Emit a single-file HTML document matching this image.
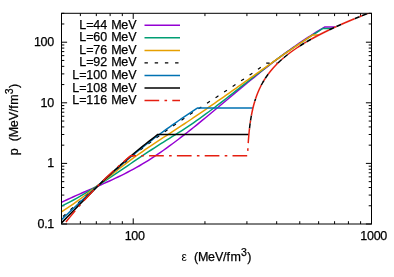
<!DOCTYPE html>
<html><head><meta charset="utf-8"><style>html,body{margin:0;padding:0;background:#fff;}body{width:394px;height:277px;overflow:hidden;position:relative;font-family:"Liberation Sans",sans-serif;}</style></head><body>
<svg width="394" height="277" viewBox="0 0 394 277" style="position:absolute;left:0;top:0;will-change:transform;opacity:0.999">
<rect width="394" height="277" fill="#fff"/>
<path d="M80.37,224.0 v-2.8 M80.37,13.3 v2.8 M96.32,224.0 v-2.8 M96.32,13.3 v2.8 M110.14,224.0 v-2.8 M110.14,13.3 v2.8 M122.32,224.0 v-2.8 M122.32,13.3 v2.8 M204.95,224.0 v-2.8 M204.95,13.3 v2.8 M246.91,224.0 v-2.8 M246.91,13.3 v2.8 M276.68,224.0 v-2.8 M276.68,13.3 v2.8 M299.77,224.0 v-2.8 M299.77,13.3 v2.8 M318.64,224.0 v-2.8 M318.64,13.3 v2.8 M334.59,224.0 v-2.8 M334.59,13.3 v2.8 M348.41,224.0 v-2.8 M348.41,13.3 v2.8 M360.60,224.0 v-2.8 M360.60,13.3 v2.8 M133.23,224.0 v-5.6 M133.23,13.3 v5.6 M371.50,224.0 v-5.6 M371.50,13.3 v5.6 M61.5,224.00 h5.6 M371.5,224.00 h-5.6 M61.5,205.76 h2.8 M371.5,205.76 h-2.8 M61.5,195.09 h2.8 M371.5,195.09 h-2.8 M61.5,187.52 h2.8 M371.5,187.52 h-2.8 M61.5,181.65 h2.8 M371.5,181.65 h-2.8 M61.5,176.85 h2.8 M371.5,176.85 h-2.8 M61.5,172.79 h2.8 M371.5,172.79 h-2.8 M61.5,169.28 h2.8 M371.5,169.28 h-2.8 M61.5,166.18 h2.8 M371.5,166.18 h-2.8 M61.5,163.40 h5.6 M371.5,163.40 h-5.6 M61.5,145.16 h2.8 M371.5,145.16 h-2.8 M61.5,134.49 h2.8 M371.5,134.49 h-2.8 M61.5,126.92 h2.8 M371.5,126.92 h-2.8 M61.5,121.05 h2.8 M371.5,121.05 h-2.8 M61.5,116.25 h2.8 M371.5,116.25 h-2.8 M61.5,112.19 h2.8 M371.5,112.19 h-2.8 M61.5,108.68 h2.8 M371.5,108.68 h-2.8 M61.5,105.58 h2.8 M371.5,105.58 h-2.8 M61.5,102.81 h5.6 M371.5,102.81 h-5.6 M61.5,84.57 h2.8 M371.5,84.57 h-2.8 M61.5,73.90 h2.8 M371.5,73.90 h-2.8 M61.5,66.33 h2.8 M371.5,66.33 h-2.8 M61.5,60.45 h2.8 M371.5,60.45 h-2.8 M61.5,55.65 h2.8 M371.5,55.65 h-2.8 M61.5,51.60 h2.8 M371.5,51.60 h-2.8 M61.5,48.08 h2.8 M371.5,48.08 h-2.8 M61.5,44.98 h2.8 M371.5,44.98 h-2.8 M61.5,42.21 h5.6 M371.5,42.21 h-5.6 M61.5,23.97 h2.8 M371.5,23.97 h-2.8 M61.5,13.30 h2.8 M371.5,13.30 h-2.8" stroke="#000" stroke-width="1" fill="none"/>
<clipPath id="c"><rect x="61.5" y="13.3" width="310.0" height="210.7"/></clipPath>
<clipPath id="q"><rect x="246.6" y="5.300000000000001" width="140" height="147.6"/></clipPath>
<mask id="m" maskUnits="userSpaceOnUse" x="0" y="0" width="394" height="277"><rect width="394" height="277" fill="#fff"/><g clip-path="url(#q)" fill="none" stroke="#000" stroke-width="2.9"><path d="M61.50,227.76 L64.50,223.87 L67.50,220.07 L70.50,216.35 L73.50,212.71 L76.50,209.15 L79.50,205.66 L82.50,202.25 L85.50,198.91 L88.50,195.63 L91.50,192.43 L94.50,189.29 L97.50,186.21 L100.50,183.19 L103.50,180.23 L106.50,177.33 L109.50,174.49 L112.50,171.69 L115.50,168.95 L118.50,166.25 L121.50,163.60 L124.50,161.00 L127.50,158.44 L130.50,155.92 L130.60,155.83 L247.55,155.83 L247.66,153.25 L247.78,150.75 L247.91,148.25 L248.05,145.75 L248.21,143.25 L248.38,140.75 L248.57,138.25 L248.78,135.75 L249.00,133.25 L249.25,130.75 L249.53,128.25 L249.83,125.75 L250.16,123.25 L250.52,120.75 L250.91,118.25 L251.35,115.75 L251.82,113.25 L252.34,110.75 L252.90,108.25 L253.52,105.75 L254.20,103.25 L254.94,100.75 L255.58,98.75" stroke-dasharray="14.7,5.3,2.6,5.2" stroke-dashoffset="20.54"/><path d="M255.58,98.75 L256.44,96.25 L257.38,93.75 L258.41,91.25 L259.52,88.75 L260.74,86.25 L261.91,84.00 L263.18,81.75 L264.54,79.50 L266.01,77.25 L267.58,75.00 L269.26,72.75 L270.85,70.75 L272.54,68.75 L274.33,66.75 L276.23,64.75 L278.23,62.75 L280.08,61.00 L282.02,59.25 L284.04,57.50 L286.16,55.75 L288.38,54.00 L290.69,52.25 L292.75,50.75 L294.89,49.25 L297.10,47.75 L299.38,46.25 L301.74,44.75 L304.18,43.25 L306.69,41.75 L309.28,40.25 L311.50,39.00 L313.77,37.75 L316.09,36.50" stroke-dasharray="14.7,5.3,2.6,5.2"/><path d="M316.09,36.50 L318.47,35.25 L320.90,34.00 L323.38,32.75 L325.91,31.50 L328.49,30.25 L331.12,29.00 L333.81,27.75 L336.54,26.50 L339.32,25.25 L342.14,24.00 L344.44,23.00 L346.76,22.00 L349.11,21.00 L351.49,20.00 L353.90,19.00 L356.33,18.00 L358.79,17.00 L361.27,16.00 L363.77,15.00 L366.30,14.00 L368.85,13.00 L371.43,12.00 L374.02,11.00 L376.63,10.00 L379.26,9.00 L381.91,8.00" stroke-dasharray="14.7,5.3,2.6,5.2"/></g></mask>
<g clip-path="url(#c)"><g fill="none" stroke-width="1.5" stroke-linejoin="round">
<path d="M61.50,202.32 L64.50,200.88 L67.50,199.48 L70.50,198.10 L73.50,196.74 L76.50,195.40 L79.50,194.08 L82.50,192.76 L85.50,191.46 L88.50,190.16 L91.50,188.87 L94.50,187.57 L97.50,186.27 L100.50,184.96 L103.50,183.64 L106.50,182.30 L109.50,180.95 L112.50,179.58 L115.50,178.18 L118.50,176.76 L121.50,175.30 L124.50,173.81 L127.50,172.28 L130.50,170.71 L133.50,169.10 L136.50,167.44 L139.50,165.73 L142.50,163.97 L145.50,162.15 L148.50,160.28 L151.50,158.37 L154.50,156.40 L157.50,154.39 L160.50,152.34 L163.50,150.25 L166.50,148.12 L169.50,145.95 L172.50,143.74 L175.50,141.51 L178.50,139.24 L181.50,136.94 L184.50,134.61 L187.50,132.26 L190.50,129.89 L193.50,127.49 L196.50,125.07 L199.50,122.64 L202.50,120.19 L205.50,117.73 L208.50,115.25 L211.50,112.77 L214.50,110.27 L217.50,107.77 L220.50,105.26 L223.50,102.75 L226.50,100.24 L229.50,97.72 L232.50,95.21 L235.50,92.70 L238.50,90.20 L241.50,87.70 L244.50,85.21 L247.50,82.73 L250.50,80.26 L253.50,77.81 L256.50,75.37 L259.50,72.95 L262.50,70.54 L265.50,68.16 L268.50,65.79 L271.50,63.46 L274.50,61.14 L277.50,58.86 L280.50,56.60 L283.50,54.37 L286.50,52.17 L289.50,50.01 L292.50,47.88 L295.50,45.79 L298.50,43.72 L301.50,41.69 L304.50,39.69 L307.50,37.72 L310.50,35.78 L313.50,33.87 L316.50,31.99 L319.50,30.14 L322.50,28.32 L324.60,27.06 L335.30,27.06" stroke="#9400d3"/>
<path d="M61.50,206.13 L64.50,204.66 L67.50,203.15 L70.50,201.58 L73.50,199.97 L76.50,198.31 L79.50,196.61 L82.50,194.88 L85.50,193.10 L88.50,191.29 L91.50,189.45 L94.50,187.58 L97.50,185.68 L100.50,183.76 L103.50,181.82 L106.50,179.86 L109.50,177.88 L112.50,175.88 L115.50,173.87 L118.50,171.86 L121.50,169.83 L124.50,167.81 L127.50,165.78 L130.50,163.75 L133.50,161.72 L136.50,159.70 L139.50,157.69 L142.50,155.69 L145.50,153.69 L148.50,151.72 L151.50,149.75 L154.50,147.81 L157.50,145.88 L160.50,143.97 L163.50,142.08 L166.50,140.21 L169.50,138.34 L172.50,136.47 L175.50,134.59 L178.50,132.70 L181.50,130.77 L184.50,128.82 L187.50,126.84 L190.50,124.82 L193.50,122.76 L196.50,120.68 L199.50,118.56 L202.50,116.41 L205.50,114.22 L208.50,112.01 L211.50,109.77 L214.50,107.51 L217.50,105.22 L220.50,102.92 L223.50,100.60 L226.50,98.26 L229.50,95.92 L232.50,93.56 L235.50,91.20 L238.50,88.83 L241.50,86.46 L244.50,84.10 L247.50,81.73 L250.50,79.37 L253.50,77.02 L256.50,74.68 L259.50,72.35 L262.50,70.04 L265.50,67.75 L268.50,65.48 L271.50,63.23 L274.50,61.00 L277.50,58.81 L280.50,56.64 L283.50,54.51 L286.50,52.40 L289.50,50.33 L292.50,48.28 L295.50,46.25 L298.50,44.25 L301.50,42.26 L304.50,40.29 L307.50,38.34 L310.50,36.40 L313.50,34.47 L316.50,32.55 L319.50,30.63 L322.50,28.72 L322.80,28.53 L332.12,28.53" stroke="#009e73"/>
<path d="M61.50,211.78 L64.50,209.87 L67.50,207.90 L70.50,205.87 L73.50,203.79 L76.50,201.66 L79.50,199.49 L82.50,197.27 L85.50,195.02 L88.50,192.74 L91.50,190.44 L94.50,188.11 L97.50,185.76 L100.50,183.40 L103.50,181.03 L106.50,178.66 L109.50,176.29 L112.50,173.93 L115.50,171.58 L118.50,169.24 L121.50,166.92 L124.50,164.62 L127.50,162.35 L130.50,160.12 L133.50,157.92 L136.50,155.76 L139.50,153.64 L142.50,151.54 L145.50,149.47 L148.50,147.43 L151.50,145.41 L154.50,143.40 L157.50,141.42 L160.50,139.44 L163.50,137.48 L166.50,135.52 L169.50,133.56 L172.50,131.61 L175.50,129.66 L178.50,127.69 L181.50,125.73 L184.50,123.75 L187.50,121.75 L190.50,119.75 L193.50,117.73 L196.50,115.70 L199.50,113.66 L202.50,111.61 L205.50,109.55 L208.50,107.48 L211.50,105.40 L214.50,103.32 L217.50,101.22 L220.50,99.13 L223.50,97.02 L226.50,94.91 L229.50,92.80 L232.50,90.68 L235.50,88.56 L238.50,86.44 L241.50,84.31 L244.50,82.18 L247.50,80.06 L250.50,77.93 L253.50,75.80 L256.50,73.68 L259.50,71.55 L262.50,69.43 L265.50,67.31 L268.50,65.20 L271.50,63.09 L274.50,60.98 L277.50,58.88 L280.50,56.79 L283.50,54.71 L286.50,52.63 L289.50,50.56 L292.50,48.50 L295.50,46.44 L298.50,44.40 L301.50,42.37 L304.50,40.35 L307.50,38.35 L310.50,36.35 L312.50,35.03 L318.89,35.03" stroke="#e69f00"/>
<path d="M61.50,217.85 L64.50,215.16 L67.50,212.47 L70.50,209.78 L73.50,207.09 L76.50,204.40 L79.50,201.72 L82.50,199.04 L85.50,196.37 L88.50,193.70 L91.50,191.05 L94.50,188.40 L97.50,185.76 L100.50,183.14 L103.50,180.53 L106.50,177.93 L109.50,175.35 L112.50,172.79 L115.50,170.24 L118.50,167.71 L121.50,165.21 L124.50,162.72 L127.50,160.26 L130.50,157.82 L133.50,155.41 L136.50,153.02 L139.50,150.66 L142.50,148.33 L145.50,146.02 L148.50,143.74 L151.50,141.49 L154.50,139.27 L157.50,137.06 L160.50,134.88 L163.50,132.72 L166.50,130.59 L169.50,128.47 L172.50,126.37 L175.50,124.29 L178.50,122.22 L181.50,120.17 L184.50,118.14 L187.50,116.11 L190.50,114.10 L193.50,112.11 L196.50,110.12 L199.50,108.14 L202.50,106.17 L205.50,104.20 L208.50,102.24 L211.50,100.29 L214.50,98.33 L217.50,96.38 L220.50,94.42 L223.50,92.46 L226.50,90.50 L229.50,88.53 L232.50,86.55 L235.50,84.57 L238.50,82.57 L241.50,80.57 L244.50,78.55 L247.50,76.51 L250.50,74.46 L253.50,72.39 L256.50,70.31 L259.50,68.20 L262.50,66.07 L265.50,63.91 L266.50,63.19 L277.78,63.19" stroke="#000000" stroke-width="1.2" stroke-dasharray="3.4,6.8" stroke-dashoffset="8.28"/>
<path d="M61.50,219.70 L64.50,216.83 L67.50,213.97 L70.50,211.12 L73.50,208.27 L76.50,205.44 L79.50,202.62 L82.50,199.81 L85.50,197.01 L88.50,194.23 L91.50,191.46 L94.50,188.71 L97.50,185.97 L100.50,183.25 L103.50,180.55 L106.50,177.86 L109.50,175.20 L112.50,172.55 L115.50,169.93 L118.50,167.32 L121.50,164.74 L124.50,162.18 L127.50,159.65 L130.50,157.13 L133.50,154.65 L136.50,152.19 L139.50,149.75 L142.50,147.35 L145.50,144.97 L148.50,142.62 L151.50,140.30 L154.50,138.01 L157.50,135.75 L160.50,133.52 L163.50,131.33 L166.50,129.16 L169.50,127.02 L172.50,124.91 L175.50,122.82 L178.50,120.75 L181.50,118.71 L184.50,116.68 L187.50,114.67 L190.50,112.67 L193.50,110.70 L196.50,108.73 L197.80,107.88 L252.99,107.88" stroke="#0072b2"/>
<path d="M61.50,222.93 L64.50,219.89 L67.50,216.84 L70.50,213.78 L73.50,210.71 L76.50,207.64 L79.50,204.57 L82.50,201.50 L85.50,198.45 L88.50,195.42 L91.50,192.40 L94.50,189.41 L97.50,186.45 L100.50,183.53 L103.50,180.65 L106.50,177.81 L109.50,175.02 L112.50,172.27 L115.50,169.54 L118.50,166.85 L121.50,164.17 L124.50,161.52 L127.50,158.89 L130.50,156.30 L133.50,153.75 L136.50,151.25 L139.50,148.80 L142.50,146.38 L145.50,143.99 L148.50,141.63 L151.50,139.30 L154.50,136.99 L157.50,134.68 L157.80,134.45 L248.89,134.45" stroke="#000000"/>
<g mask="url(#m)"><path d="M248.89,134.45 L249.15,131.75 L249.42,129.25 L249.70,126.75 L250.02,124.25 L250.37,121.75 L250.75,119.25 L251.17,116.75 L251.63,114.25 L252.13,111.75 L252.67,109.25 L253.27,106.75 L253.92,104.25 L254.64,101.75 L255.42,99.25 L256.26,96.75 L257.19,94.25 L258.20,91.75 L259.29,89.25 L260.49,86.75 L261.64,84.50 L262.89,82.25 L264.23,80.00 L265.67,77.75 L267.22,75.50 L268.87,73.25 L270.44,71.25 L272.11,69.25 L273.87,67.25 L275.74,65.25 L277.72,63.25 L279.54,61.50 L281.45,59.75 L283.45,58.00 L285.55,56.25 L287.74,54.50 L290.02,52.75 L292.06,51.25 L294.17,49.75 L296.35,48.25 L298.61,46.75 L300.95,45.25 L303.36,43.75 L305.85,42.25 L308.41,40.75 L310.61,39.50 L312.85,38.25 L315.16,37.00 L317.51,35.75 L319.92,34.50 L322.38,33.25 L324.89,32.00 L327.45,30.75 L330.07,29.50 L332.73,28.25 L335.44,27.00 L338.20,25.75 L341.01,24.50 L343.86,23.25 L346.18,22.25 L348.52,21.25 L350.89,20.25 L353.29,19.25 L355.72,18.25 L358.17,17.25 L360.65,16.25 L363.15,15.25 L365.67,14.25 L368.21,13.25 L370.78,12.25 L373.37,11.25 L375.98,10.25 L378.60,9.25 L381.25,8.25" stroke="#000000"/></g>
<path d="M61.50,227.76 L64.50,223.87 L67.50,220.07 L70.50,216.35 L73.50,212.71 L76.50,209.15 L79.50,205.66 L82.50,202.25 L85.50,198.91 L88.50,195.63 L91.50,192.43 L94.50,189.29 L97.50,186.21 L100.50,183.19 L103.50,180.23 L106.50,177.33 L109.50,174.49 L112.50,171.69 L115.50,168.95 L118.50,166.25 L121.50,163.60 L124.50,161.00 L127.50,158.44 L130.50,155.92 L130.60,155.83 L247.55,155.83 L247.66,153.25 L247.78,150.75 L247.91,148.25 L248.05,145.75 L248.21,143.25 L248.38,140.75 L248.57,138.25 L248.78,135.75 L249.00,133.25 L249.25,130.75 L249.53,128.25 L249.83,125.75 L250.16,123.25 L250.52,120.75 L250.91,118.25 L251.35,115.75 L251.82,113.25 L252.34,110.75 L252.90,108.25 L253.52,105.75 L254.20,103.25 L254.94,100.75 L255.58,98.75" stroke="#e51e10" stroke-dasharray="14.7,5.3,2.6,5.2" stroke-dashoffset="20.54"/>
<path d="M255.58,98.75 L256.44,96.25 L257.38,93.75 L258.41,91.25 L259.52,88.75 L260.74,86.25 L261.91,84.00 L263.18,81.75 L264.54,79.50 L266.01,77.25 L267.58,75.00 L269.26,72.75 L270.85,70.75 L272.54,68.75 L274.33,66.75 L276.23,64.75 L278.23,62.75 L280.08,61.00 L282.02,59.25 L284.04,57.50 L286.16,55.75 L288.38,54.00 L290.69,52.25 L292.75,50.75 L294.89,49.25 L297.10,47.75 L299.38,46.25 L301.74,44.75 L304.18,43.25 L306.69,41.75 L309.28,40.25 L311.50,39.00 L313.77,37.75 L316.09,36.50" stroke="#e51e10" stroke-dasharray="14.7,5.3,2.6,5.2"/>
<path d="M316.09,36.50 L318.47,35.25 L320.90,34.00 L323.38,32.75 L325.91,31.50 L328.49,30.25 L331.12,29.00 L333.81,27.75 L336.54,26.50 L339.32,25.25 L342.14,24.00 L344.44,23.00 L346.76,22.00 L349.11,21.00 L351.49,20.00 L353.90,19.00 L356.33,18.00 L358.79,17.00 L361.27,16.00 L363.77,15.00 L366.30,14.00 L368.85,13.00 L371.43,12.00 L374.02,11.00 L376.63,10.00 L379.26,9.00 L381.91,8.00" stroke="#e51e10" stroke-dasharray="14.7,5.3,2.6,5.2"/>
</g></g>
<rect x="61.5" y="13.3" width="310.0" height="210.7" fill="none" stroke="#000" stroke-width="1"/>
<g font-family="Liberation Sans, sans-serif" font-size="12.5" fill="#000" stroke="#000" stroke-width="0.25" stroke-linejoin="round">
<text x="79.20 86.20 93.20 100.20 107.20 111.20 121.20 128.20" y="28.50">L=44 MeV</text>
<path d="M144.5,25.30 H180" stroke="#9400d3" stroke-width="1.5" fill="none"/>
<text x="79.20 86.20 93.20 100.20 107.20 111.20 121.20 128.20" y="40.50">L=60 MeV</text>
<path d="M144.5,37.85 H180" stroke="#009e73" stroke-width="1.5" fill="none"/>
<text x="79.20 86.20 93.20 100.20 107.20 111.20 121.20 128.20" y="53.50">L=76 MeV</text>
<path d="M144.5,50.40 H180" stroke="#e69f00" stroke-width="1.5" fill="none"/>
<text x="79.20 86.20 93.20 100.20 107.20 111.20 121.20 128.20" y="65.50">L=92 MeV</text>
<path d="M144.5,62.95 H180" stroke="#000000" stroke-width="1.2" fill="none" stroke-dasharray="3.4,6.8"/>
<text x="72.20 79.20 86.20 93.20 100.20 107.20 111.20 121.20 128.20" y="78.50">L=100 MeV</text>
<path d="M144.5,75.50 H180" stroke="#0072b2" stroke-width="1.5" fill="none"/>
<text x="72.20 79.20 86.20 93.20 100.20 107.20 111.20 121.20 128.20" y="91.50">L=108 MeV</text>
<path d="M144.5,88.05 H180" stroke="#000000" stroke-width="1.5" fill="none"/>
<text x="72.20 79.20 86.20 93.20 100.20 107.20 111.20 121.20 128.20" y="103.50">L=116 MeV</text>
<path d="M144.5,100.60 H180" stroke="#e51e10" stroke-width="1.5" fill="none" stroke-dasharray="14.7,5.3,2.6,5.2"/>
<text x="37.56 44.23 47.23" y="228.00">0.1</text>
<text x="47.23" y="167.00">1</text>
<text x="40.56 47.23" y="107.00">10</text>
<text x="33.89 40.56 47.23" y="46.00">100</text>
<text x="124.69 131.36 138.03" y="240.30">100</text>
<text x="360.36 367.03 373.70 380.37" y="240.30">1000</text>
<g transform="translate(216.6,261.3)"><text x="-35.00" y="0" font-size="12" stroke="none">ε</text><text x="-28.60 -25.60 -22.60 -18.60 -8.60 -1.60 6.40 9.90 13.90" y="0.00">  (MeV/fm</text><text x="24.30" y="-5.6" font-size="10.5">3</text><text x="30.60" y="0">)</text></g>
<g transform="translate(18.4,119.6) rotate(-90)"><text x="-35.60" y="0">p</text><text x="-28.60 -25.10 -21.60 -17.60 -7.60 -0.60 7.40 10.90 14.90" y="0.00">  (MeV/fm</text><text x="25.30" y="-5.6" font-size="10.5">3</text><text x="31.60" y="0">)</text></g>
</g>
</svg>
</body></html>
